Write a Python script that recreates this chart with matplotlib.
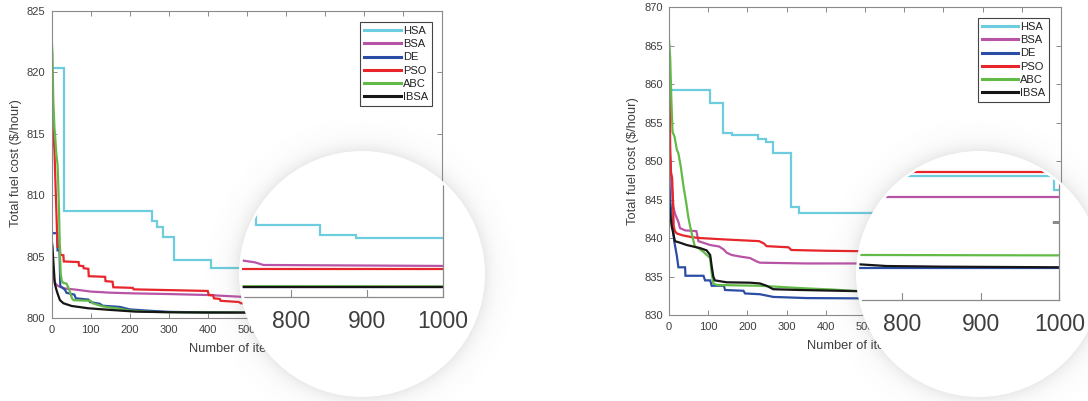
import numpy as np
import matplotlib
matplotlib.use("Agg")
import matplotlib.pyplot as plt
from matplotlib.patches import Circle

plt.rcParams['font.family'] = ['Liberation Sans', 'DejaVu Sans']

W, H = 1088, 401

names = ["HSA", "BSA", "DE", "PSO", "ABC", "IBSA"]
colors = ["#6DCCDD", "#B854A6", "#2B4DA3", "#E8252B", "#62BB46", "#161616"]
x_ticks = list(range(0, 1001, 100))
zoom_ticks = [800, 900, 1000]

# ---- case 1: convergence of total fuel cost (iteration, cost) ----
c1_hsa_it = [0, 32, 256, 269, 285, 314, 408, 1000]
c1_hsa_v = [820.3, 808.7, 807.9, 807.4, 806.55, 804.7, 804.05, 804.05]
c1_bsa_it = [0, 2, 4, 8, 13, 20, 34, 64, 100, 150, 213, 300, 400, 483, 1000]
c1_bsa_v = [805.0, 804.2, 803.4, 802.9, 802.68, 802.55, 802.4, 802.3, 802.15,
            802.06, 802.0, 801.95, 801.87, 801.73, 801.31]
c1_de_it = [0, 14, 15, 20, 22, 34, 38, 58, 62, 94, 98, 124, 130, 175, 200,
            245, 300, 400, 1000]
c1_de_v = [806.9, 806.9, 805.5, 805.5, 802.6, 802.3, 802.05, 801.9, 801.6,
           801.5, 801.3, 801.15, 801.0, 800.9, 800.7, 800.6, 800.5, 800.45, 800.41]
c1_pso_it = [0, 4, 7, 11, 15, 21, 22, 30, 31, 69, 70, 81, 82, 94, 95, 137, 138,
             156, 158, 208, 210, 400, 403, 414, 416, 431, 433, 480, 485, 1000]
c1_pso_v = [821.0, 815.0, 813.7, 809.6, 805.8, 805.8, 805.15, 805.1, 804.6,
            804.55, 804.26, 804.22, 804.05, 804.0, 803.4, 803.35, 803.0, 802.95,
            802.5, 802.45, 802.33, 802.2, 801.87, 801.85, 801.6, 801.55, 801.4,
            801.3, 801.2, 801.17]
c1_abc_it = [0, 2, 4, 7, 9, 12, 15, 17, 19, 21, 23, 26, 30, 38, 45, 52, 56, 100,
             105, 130, 150, 175, 200, 250, 350, 1000]
c1_abc_v = [822.7, 821.5, 817.8, 815.5, 814.7, 813.3, 812.5, 810.7, 808.4,
            805.5, 803.6, 803.0, 802.85, 802.8, 802.3, 801.6, 801.45, 801.4,
            801.2, 800.95, 800.85, 800.75, 800.6, 800.5, 800.45, 800.44]
c1_ibsa_it = [0, 2, 4, 8, 12, 15, 21, 30, 51, 94, 154, 214, 300, 400, 1000]
c1_ibsa_v = [806.3, 805.8, 804.7, 802.8, 802.3, 802.0, 801.46, 801.2, 800.98,
             800.79, 800.65, 800.52, 800.47, 800.45, 800.41]

# case 1, final iterations enlarged
z1_hsa_it = [700, 754, 838, 886, 1000]
z1_hsa_v = [803.6, 803.0, 802.59, 802.45, 802.45]
z1_bsa_it = [700, 738, 753, 764, 1000]
z1_bsa_v = [801.56, 801.52, 801.45, 801.34, 801.30]
z1_de_it = [700, 1000]
z1_de_v = [800.40, 800.40]
z1_pso_it = [700, 1000]
z1_pso_v = [801.17, 801.17]
z1_abc_it = [700, 1000]
z1_abc_v = [800.45, 800.44]
z1_ibsa_it = [700, 1000]
z1_ibsa_v = [800.41, 800.41]

# ---- case 2 ----
c2_hsa_it = [0, 104, 138, 160, 228, 247, 266, 311, 332, 1000]
c2_hsa_v = [859.3, 857.6, 853.7, 853.4, 852.9, 852.55, 851.0, 844.0, 843.2, 843.2]
c2_bsa_it = [0, 4, 7, 11, 15, 24, 28, 41, 70, 75, 105, 128, 140, 147, 160, 181,
             207, 224, 232, 350, 483, 1000]
c2_bsa_v = [852.3, 849.7, 846.7, 844.1, 843.2, 842.1, 841.3, 841.0, 840.9,
            839.6, 839.1, 838.9, 838.5, 838.1, 837.8, 837.6, 837.4, 836.95,
            836.8, 836.7, 836.7, 836.58]
c2_de_it = [0, 3, 6, 11, 14, 20, 24, 41, 42, 88, 92, 105, 109, 140, 143, 190,
            194, 232, 266, 351, 1000]
c2_de_v = [848.4, 845.0, 843.2, 840.6, 839.4, 837.7, 836.2, 836.2, 835.1, 835.1,
           834.5, 834.5, 833.8, 833.8, 833.25, 833.15, 832.8, 832.7, 832.35,
           832.2, 832.02]
c2_pso_it = [0, 2, 3, 5, 8, 10, 12, 15, 20, 35, 60, 80, 150, 230, 242, 249, 305,
             312, 400, 483, 1000]
c2_pso_v = [863.2, 858.0, 852.0, 848.5, 847.8, 845.0, 841.5, 840.9, 840.6,
            840.35, 840.1, 840.0, 839.8, 839.6, 839.3, 838.95, 838.8, 838.45,
            838.35, 838.3, 838.15]
c2_abc_it = [0, 3, 6, 9, 14, 20, 24, 30, 37, 43, 49, 54, 62, 66, 75, 88, 105,
             109, 113, 122, 232, 334, 419, 483, 1000]
c2_abc_v = [865.8, 863.5, 858.0, 853.8, 853.2, 851.5, 851.0, 849.3, 846.7,
            844.9, 842.8, 841.5, 839.7, 838.9, 838.7, 838.2, 837.4, 835.4,
            834.1, 833.9, 833.8, 833.5, 833.3, 833.1, 832.87]
c2_ibsa_it = [0, 2.5, 7, 11, 15, 28, 45, 62, 79, 96, 105, 109, 113, 117, 147,
              207, 232, 249, 266, 334, 483, 1000]
c2_ibsa_v = [845.15, 843.2, 841.5, 840.6, 839.6, 839.4, 839.1, 838.9, 838.7,
             838.4, 837.8, 836.3, 835.0, 834.5, 834.25, 834.2, 834.1, 833.8,
             833.35, 833.25, 833.1, 832.09]

# case 2, final iterations enlarged
z2_hsa_it = [700, 993, 1000]
z2_hsa_v = [837.94, 837.02, 837.02]
z2_bsa_it = [700, 1000]
z2_bsa_v = [836.58, 836.58]
z2_de_it = [700, 1000]
z2_de_v = [832.02, 832.02]
z2_pso_it = [700, 1000]
z2_pso_v = [838.15, 838.15]
z2_abc_it = [700, 1000]
z2_abc_v = [832.88, 832.85]
z2_ibsa_it = [700, 745, 780, 850, 1000]
z2_ibsa_v = [832.30, 832.28, 832.17, 832.13, 832.09]

case1 = [(c1_hsa_it, c1_hsa_v), (c1_bsa_it, c1_bsa_v), (c1_de_it, c1_de_v),
         (c1_pso_it, c1_pso_v), (c1_abc_it, c1_abc_v), (c1_ibsa_it, c1_ibsa_v)]
case2 = [(c2_hsa_it, c2_hsa_v), (c2_bsa_it, c2_bsa_v), (c2_de_it, c2_de_v),
         (c2_pso_it, c2_pso_v), (c2_abc_it, c2_abc_v), (c2_ibsa_it, c2_ibsa_v)]
zoom1 = [(z1_hsa_it, z1_hsa_v), (z1_bsa_it, z1_bsa_v), (z1_de_it, z1_de_v),
         (z1_pso_it, z1_pso_v), (z1_abc_it, z1_abc_v), (z1_ibsa_it, z1_ibsa_v)]
zoom2 = [(z2_hsa_it, z2_hsa_v), (z2_bsa_it, z2_bsa_v), (z2_de_it, z2_de_v),
         (z2_pso_it, z2_pso_v), (z2_abc_it, z2_abc_v), (z2_ibsa_it, z2_ibsa_v)]
step_series = {"HSA"}

LW = 1.6
SPINE = "#8a8a8a"
TXT = "#3e3e3e"


def box(x0, ytop, x1, ybot):
    return [x0 / W, 1 - ybot / H, (x1 - x0) / W, (ybot - ytop) / H]


fig = plt.figure(figsize=(W / 100, H / 100), dpi=100)


def draw_series(ax, data):
    for name, col, (it, v) in zip(names, colors, data):
        ds = "steps-post" if name in step_series else "default"
        ax.plot(it, v, color=col, lw=LW, label=name, drawstyle=ds,
                solid_joinstyle="miter")


def main_panel(rect, data, ylim, yticks, leg_xy, ylab_xy, xlab_xy):
    ax = fig.add_axes(rect)
    draw_series(ax, data)
    ax.set_xlim(0, 1000)
    ax.set_ylim(*ylim)
    ax.set_xticks(x_ticks)
    ax.set_yticks(yticks)
    ax.tick_params(direction="in", length=3.5, width=0.7, color=SPINE,
                   top=True, right=True, labelsize=8, labelcolor=TXT)
    ax.tick_params(axis="x", pad=5)
    ax.tick_params(axis="y", pad=4.5)
    # labels that sit underneath the magnifier disc are left out
    for tick, val in zip(ax.xaxis.get_major_ticks(), x_ticks):
        if val > 500:
            tick.label1.set_visible(False)
    for s in ax.spines.values():
        s.set_color(SPINE)
        s.set_linewidth(0.8)
    leg = ax.legend(loc="upper left", bbox_to_anchor=(leg_xy[0] / W, 1 - leg_xy[1] / H),
                    bbox_transform=fig.transFigure, borderaxespad=0, fontsize=8,
                    handlelength=3.3, handletextpad=0.2, labelspacing=0.28,
                    borderpad=0.35, fancybox=False, framealpha=1)
    leg.get_frame().set_edgecolor("#444444")
    leg.get_frame().set_linewidth(0.8)
    for t in leg.get_texts():
        t.set_color("#222222")
    for h in leg.get_lines():
        h.set_linewidth(2.2)
    # axis titles belong to the axes so the disc can cover them
    ax.text(ylab_xy[0] / W, 1 - ylab_xy[1] / H, "Total fuel cost ($/hour)",
            transform=fig.transFigure, rotation=90, ha="center", va="center",
            fontsize=9.3, color=TXT)
    ax.text(xlab_xy[0] / W, 1 - xlab_xy[1] / H, "Number of iterations",
            transform=fig.transFigure, ha="center", va="center",
            fontsize=9.3, color=TXT)
    return ax


ax1 = main_panel(box(51.7, 10.7, 441.7, 318), case1, (800, 825),
                 list(range(800, 826, 5)), (360, 22.3), (16, 163), (246.7, 349))
ax2 = main_panel(box(669, 7.3, 1061, 315), case2, (830, 870),
                 list(range(830, 871, 5)), (977.7, 18.3), (633, 161), (865, 346))

# magnifier discs
centers = [(362, 274), (979, 274)]
R = 123
over = fig.add_axes([0, 0, 1, 1])
over.axis("off")
yy, xx = np.mgrid[0:H, 0:W] + 0.5
alpha = np.zeros((H, W))
for cx, cy in centers:
    d = np.hypot(xx - cx, yy - cy)
    a = np.where(d >= R - 1, 0.15 * np.exp(-np.clip(d - R, 0, None) / 9.0), 0.0)
    alpha = np.maximum(alpha, a)
shadow = np.zeros((H, W, 4))
shadow[..., :3] = 0.45
shadow[..., 3] = alpha
over.imshow(shadow, extent=(0, W, H, 0), interpolation="bilinear", zorder=1)
for cx, cy in centers:
    over.add_patch(Circle((cx, cy), R, facecolor="white", edgecolor="none", zorder=2))
over.set_xlim(0, W)
over.set_ylim(H, 0)
over.set_aspect("auto")


def zoom_panel(rect, data, xlim, ylim, ytick, center):
    ax = fig.add_axes(rect)
    ax.patch.set_visible(False)
    draw_series(ax, data)
    ax.set_xlim(*xlim)
    ax.set_ylim(*ylim)
    ax.set_xticks(zoom_ticks)
    ax.set_yticks([ytick])
    ax.tick_params(direction="in", length=5, width=0.8, color=SPINE,
                   left=False, right=True, labelleft=False,
                   labelsize=16.5, labelcolor=TXT)
    ax.tick_params(axis="x", pad=9.6)
    ax.spines["top"].set_visible(False)
    ax.spines["left"].set_visible(False)
    clip = Circle(center, R - 2.5, transform=over.transData)
    for s in ("right", "bottom"):
        ax.spines[s].set_color(SPINE)
        ax.spines[s].set_linewidth(0.9)
        ax.spines[s].set_clip_path(clip)
    for ln in ax.lines:
        ln.set_clip_path(clip)
    for t in ax.xaxis.get_major_ticks() + ax.yaxis.get_major_ticks():
        t.tick1line.set_clip_path(clip)
        t.tick2line.set_clip_path(clip)
    return ax


zoom_panel(box(225, 140, 442.7, 297), zoom1, (713.6, 1000), (800, 806.57), 805,
           centers[0])
zoom_panel(box(845, 140, 1059.3, 300), zoom2, (727, 1000), (830, 840.22), 835,
           centers[1])

fig.savefig("out.png", dpi=100)
